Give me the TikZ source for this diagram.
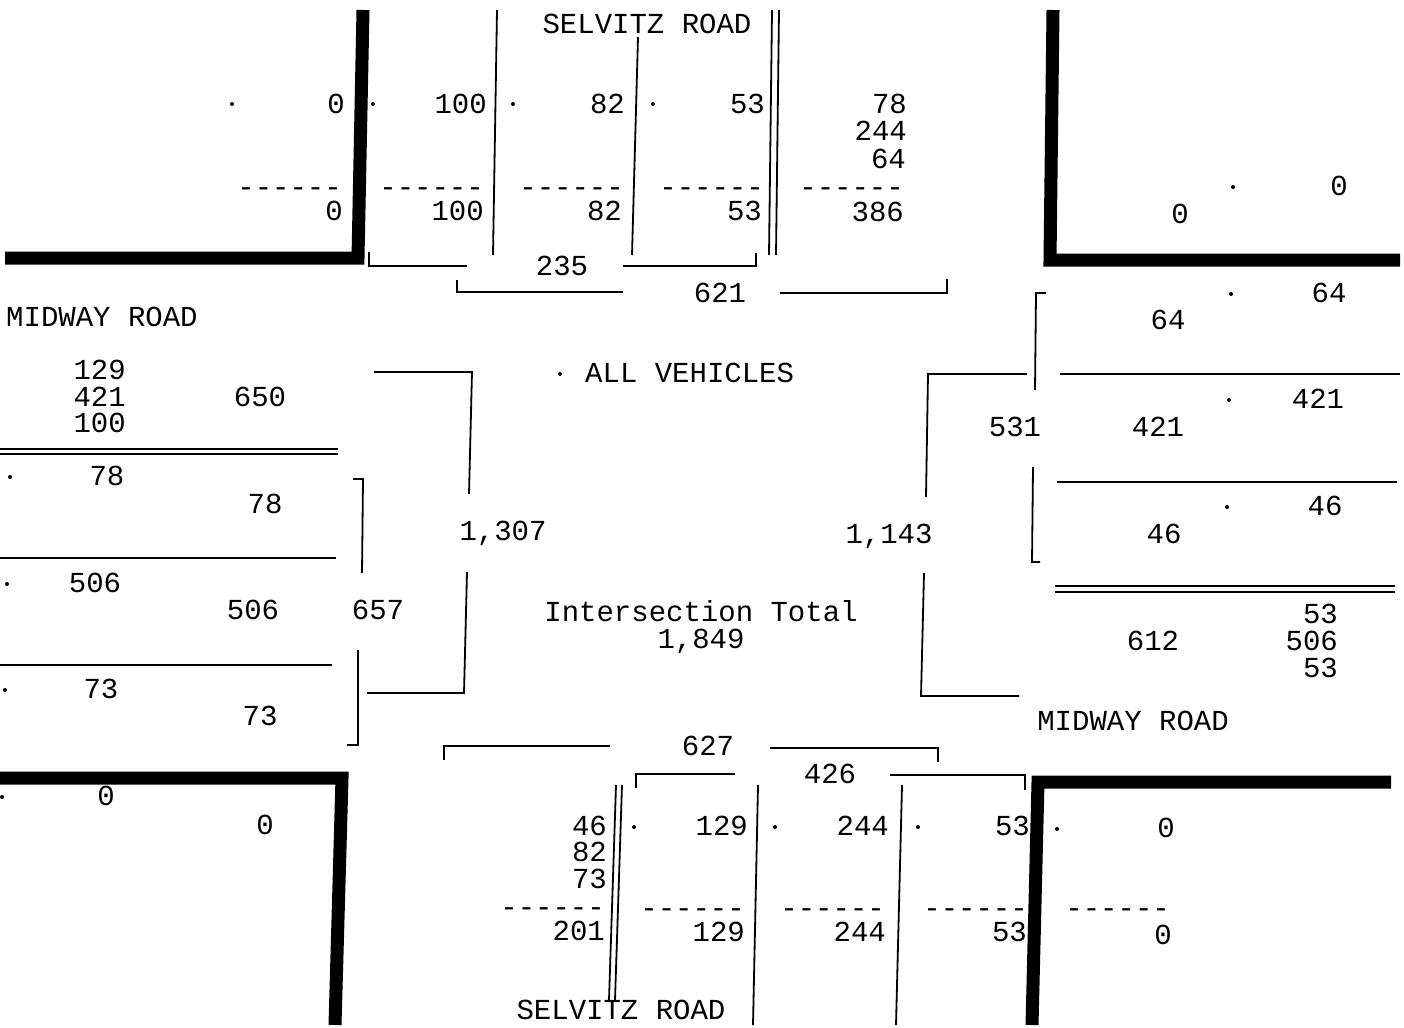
\documentclass[tikz,border=0pt]{standalone}
\usepackage{fontspec}
\newfontfamily\monofnt{Liberation Mono}
\begin{document}
\begin{tikzpicture}[x=1pt,y=-1pt,line join=miter,
  txt/.style={inner sep=0pt, font=\monofnt\fontsize{29}{27}\selectfont},
  rnum/.style={txt, anchor=base east, yshift=-8.5pt},
  cnum/.style={txt, anchor=base, yshift=-8.5pt},
  lnum/.style={txt, anchor=base west, yshift=-8.5pt},
  lane/.style={line width=1.8pt},
  curb/.style={line width=13pt},
  pt/.style={circle, fill, inner sep=0pt, minimum size=4pt}]
\useasboundingbox (0,0) rectangle (1404,1027);
% curbs
\draw[curb] (5,258) -- (358,258) -- (363,10);
\draw[curb] (1053,10) -- (1050,260) -- (1400,260);
\draw[curb] (0,778) -- (342,778) -- (335,1025);
\draw[curb] (1391,782) -- (1038,782) -- (1032,1025);
% top lane lines
\draw[lane] (497,10) -- (493,255);
\draw[lane] (638,37) -- (632,255);
\draw[lane] (772,10) -- (769,255);
\draw[lane] (779,10) -- (776,255);
% top brackets
\draw[lane] (369,252) -- (369,266) -- (467,266);
\draw[lane] (623,266) -- (756,266) -- (756,253);
\draw[lane] (457,280) -- (457,292) -- (623,292);
\draw[lane] (780,293) -- (947,293) -- (947,279);
% right side
\draw[lane] (1046,293) -- (1036,293) -- (1035,390);
\draw[lane] (1033,467) -- (1032,562) -- (1040,562);
\draw[lane] (1060,374) -- (1400,374);
\draw[lane] (1027,374) -- (928,374) -- (926,497);
\draw[lane] (924,573) -- (921,696) -- (1019,696);
\draw[lane] (1057,482) -- (1397,482);
\draw[lane] (1055,586) -- (1395,586);
\draw[lane] (1055,592) -- (1395,592);
% left side
\draw[lane] (0,449) -- (338,449);
\draw[lane] (0,454) -- (338,454);
\draw[lane] (0,558) -- (336,558);
\draw[lane] (0,665) -- (332,665);
\draw[lane] (353,479) -- (363,479) -- (362,573);
\draw[lane] (358,650) -- (358,745) -- (347,745);
\draw[lane] (374,372) -- (472,372) -- (469,494);
\draw[lane] (467,572) -- (464,693) -- (367,693);
% bottom
\draw[lane] (444,760) -- (444,746) -- (610,746);
\draw[lane] (770,748) -- (938,748) -- (938,762);
\draw[lane] (636,788) -- (636,774) -- (735,774);
\draw[lane] (890,775) -- (1025,775) -- (1025,790);
\draw[lane] (616,785) -- (609,1000);
\draw[lane] (622,785) -- (615,1000);
\draw[lane] (758,785) -- (753,1025);
\draw[lane] (902,785) -- (896,1025);
% dots
\foreach \p [count=\i] in {(232,104),(373,104),(513,104),(653,104),(1233,187),(1231,294),(1229,400),(1227,507),(10,477),(7,584),(5,690),(2,797),(560,374),(634,827),(775,827),(918,827),(1057,829)}
  \node[pt] (d\i) at \p {};
% top texts
\node[cnum] (sr1) at (647,25) {SELVITZ ROAD};
\node[rnum] (t1) at (345,105) {0};
\node[rnum] (t2) at (487,105) {100};
\node[rnum] (t3) at (625,105) {82};
\node[rnum] (t4) at (765,105) {53};
\node[rnum] (t5) at (907,105) {78};
\node[rnum] (t6) at (907,132) {244};
\node[rnum] (t7) at (906,160) {64};
\node[rnum] (td1) at (342,188) {------};
\node[rnum] (td2) at (484,188) {------};
\node[rnum] (td3) at (624,188) {------};
\node[rnum] (td4) at (764,188) {------};
\node[rnum] (td5) at (904,188) {------};
\node[rnum] (b1) at (343,212) {0};
\node[rnum] (b2) at (484,212) {100};
\node[rnum] (b3) at (622,212) {82};
\node[rnum] (b4) at (762,212) {53};
\node[rnum] (b5) at (904,213) {386};
\node[cnum] (s235) at (562,267) {235};
\node[cnum] (s621) at (720,294) {621};
% top right
\node[rnum] (tr1) at (1348,187) {0};
\node[cnum] (tr2) at (1180,215) {0};
% right
\node[cnum] (r1) at (1329,294) {64};
\node[cnum] (r2) at (1168,321) {64};
\node[cnum] (r3) at (1318,400) {421};
\node[cnum] (r4) at (1015,428) {531};
\node[cnum] (r5) at (1158,428) {421};
\node[cnum] (r6) at (1325,507) {46};
\node[cnum] (r7) at (1164,535) {46};
\node[rnum] (r8) at (1338,615) {53};
\node[rnum] (r9) at (1338,642) {506};
\node[rnum] (r10) at (1338,669) {53};
\node[cnum] (r11) at (1153,642) {612};
\node[cnum] (mr2) at (1133,722) {MIDWAY ROAD};
\node[cnum] (s1143) at (889,535) {1,143};
% left
\node[lnum] (mr1) at (6,318) {MIDWAY ROAD};
\node[rnum] (l1) at (126,371) {129};
\node[rnum] (l2) at (126,398) {421};
\node[rnum] (l3) at (126,424) {100};
\node[cnum] (l4) at (260,398) {650};
\node[cnum] (l5) at (107,477) {78};
\node[cnum] (l6) at (265,505) {78};
\node[cnum] (l7) at (95,584) {506};
\node[cnum] (l8) at (253,611) {506};
\node[cnum] (l9) at (378,611) {657};
\node[cnum] (l10) at (101,690) {73};
\node[cnum] (l11) at (260,717) {73};
\node[cnum] (l12) at (106,797) {0};
\node[cnum] (l13) at (265,826) {0};
\node[cnum] (s1307) at (503,532) {1,307};
% centre
\node[lnum] (av) at (585,374) {ALL VEHICLES};
\node[cnum] (it) at (701,613) {Intersection Total};
\node[cnum] (itv) at (701,640) {1,849};
% bottom
\node[cnum] (s627) at (708,747) {627};
\node[cnum] (s426) at (830,775) {426};
\node[rnum] (u1) at (607,827) {46};
\node[rnum] (u2) at (607,853) {82};
\node[rnum] (u3) at (607,880) {73};
\node[rnum] (ud1) at (605,908) {------};
\node[rnum] (u4) at (605,932) {201};
\node[rnum] (u5) at (748,827) {129};
\node[rnum] (u6) at (889,827) {244};
\node[rnum] (u7) at (1030,827) {53};
\node[cnum] (u8) at (1166,829) {0};
\node[rnum] (ud2) at (745,909) {------};
\node[rnum] (ud3) at (885,909) {------};
\node[rnum] (ud4) at (1028,909) {------};
\node[rnum] (ud5) at (1170,909) {------};
\node[rnum] (u9) at (745,933) {129};
\node[rnum] (u10) at (886,933) {244};
\node[rnum] (u11) at (1027,933) {53};
\node[cnum] (u12) at (1163,936) {0};
\node[cnum] (sr2) at (621,1011) {SELVITZ ROAD};
\end{tikzpicture}
\end{document}
